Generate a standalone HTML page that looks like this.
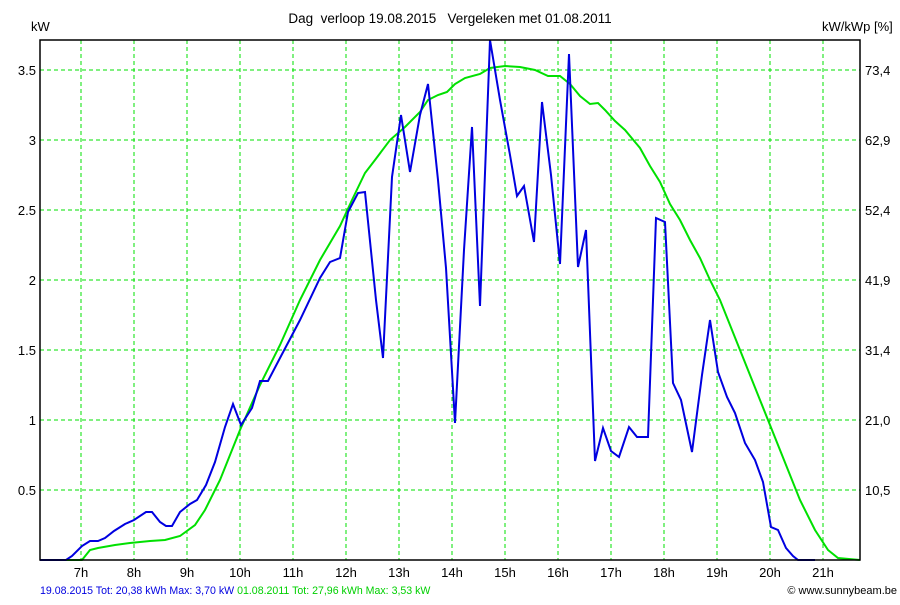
<!DOCTYPE html>
<html><head><meta charset="utf-8"><style>
body{margin:0;background:#fff;}
svg text{font-family:"Liberation Sans",sans-serif;font-size:13px;}
</style></head><body>
<svg width="900" height="600" xmlns="http://www.w3.org/2000/svg">
<rect width="900" height="600" fill="#fff"/>
<g stroke="#00e000" stroke-width="1" stroke-dasharray="4,3">
<line x1="40" y1="70" x2="860" y2="70"/><line x1="40" y1="140" x2="860" y2="140"/><line x1="40" y1="210" x2="860" y2="210"/><line x1="40" y1="280" x2="860" y2="280"/><line x1="40" y1="350" x2="860" y2="350"/><line x1="40" y1="420" x2="860" y2="420"/><line x1="40" y1="490" x2="860" y2="490"/>
<line x1="81" y1="40" x2="81" y2="560"/><line x1="134" y1="40" x2="134" y2="560"/><line x1="187" y1="40" x2="187" y2="560"/><line x1="240" y1="40" x2="240" y2="560"/><line x1="293" y1="40" x2="293" y2="560"/><line x1="346" y1="40" x2="346" y2="560"/><line x1="399" y1="40" x2="399" y2="560"/><line x1="452" y1="40" x2="452" y2="560"/><line x1="505" y1="40" x2="505" y2="560"/><line x1="558" y1="40" x2="558" y2="560"/><line x1="611" y1="40" x2="611" y2="560"/><line x1="664" y1="40" x2="664" y2="560"/><line x1="717" y1="40" x2="717" y2="560"/><line x1="770" y1="40" x2="770" y2="560"/><line x1="823" y1="40" x2="823" y2="560"/>
</g>
<polyline fill="none" stroke="#00e000" stroke-width="2" points="40,560 82,560 90,550 98,548 115,545 130,543 150,541 165,540 180,536 195,525 205,510 220,480 240,430 260,385 280,345 300,300 320,260 340,226 352,200 365,173 375,160 390,140 405,127 420,112 428,100 438,95 447,92 455,84 465,78 480,74 490,68 505,66 520,67 535,70 548,76 560,76 570,84 580,96 590,104 598,103 605,110 615,121 625,130 640,148 650,166 660,182 670,204 680,220 690,240 700,258 710,280 720,300 740,350 760,400 780,450 800,500 815,530 828,550 838,558 860,560"/>
<polyline fill="none" stroke="#0000e0" stroke-width="2" points="40,560 66,560 72,556 82,546 90,541 98,541 105,538 114,531 125,524 134,520 146,512 152,512 160,522 166,526 172,526 180,512 190,504 197,500 206,485 215,462 225,427 233,404 241,425 252,408 260,381 268,381 280,358 300,320 320,278 330,262 340,258 348,212 358,193 365,192 376,300 383,358 392,177 401,115 410,172 420,115 428,84 438,180 446,268 455,423 464,250 472,127 480,306 490,40 500,100 510,155 517,196 524,186 534,242 542,102 551,175 560,264 569,54 578,267 586,230 595,461 603,428 611,451 619,457 629,427 637,437 648,437 656,218 665,222 673,383 681,400 692,452 702,375 710,320 718,372 727,397 735,413 745,443 755,460 763,482 771,527 778,530 786,548 793,556 798,560 815,560"/>
<rect x="40" y="40" width="820" height="520" fill="none" stroke="#000" stroke-width="1.5"/>
<g text-anchor="end" fill="#000">
<text x="36" y="75">3.5</text><text x="36" y="145">3</text><text x="36" y="215">2.5</text><text x="36" y="285">2</text><text x="36" y="355">1.5</text><text x="36" y="425">1</text><text x="36" y="495">0.5</text>
</g>
<g fill="#000">
<text x="865" y="75">73,4</text><text x="865" y="145">62,9</text><text x="865" y="215">52,4</text><text x="865" y="285">41,9</text><text x="865" y="355">31,4</text><text x="865" y="425">21,0</text><text x="865" y="495">10,5</text>
</g>
<g text-anchor="middle" fill="#000">
<text x="81" y="577">7h</text><text x="134" y="577">8h</text><text x="187" y="577">9h</text><text x="240" y="577">10h</text><text x="293" y="577">11h</text><text x="346" y="577">12h</text><text x="399" y="577">13h</text><text x="452" y="577">14h</text><text x="505" y="577">15h</text><text x="558" y="577">16h</text><text x="611" y="577">17h</text><text x="664" y="577">18h</text><text x="717" y="577">19h</text><text x="770" y="577">20h</text><text x="823" y="577">21h</text>
<text x="450" y="23" style="font-size:13.5px" xml:space="preserve">Dag  verloop 19.08.2015   Vergeleken met 01.08.2011</text>
</g>
<text x="31" y="31">kW</text>
<text x="822" y="31">kW/kWp [%]</text>
<text x="40" y="594" fill="#0000e0" style="font-size:10.6px">19.08.2015 Tot: 20,38 kWh Max: 3,70 kW <tspan fill="#00d000">01.08.2011 Tot: 27,96 kWh Max: 3,53 kW</tspan></text>
<text x="897" y="594" text-anchor="end" style="font-size:11px" fill="#000">© www.sunnybeam.be</text>
</svg>
</body></html>
